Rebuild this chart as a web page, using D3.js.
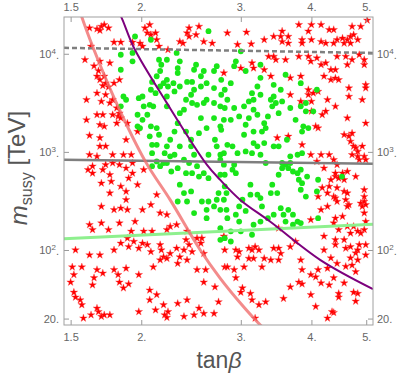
<!DOCTYPE html>
<html>
<head>
<meta charset="utf-8">
<script src="https://cdn.jsdelivr.net/npm/d3@7"></script>
<style>
  body { margin: 0; background: #fff; }
  text { font-family: "Liberation Sans", Arial, sans-serif; }
</style>
</head>
<body>
<div id="chart"></div>
<script>
// tick values / labels
var xTicks = [1.5, 2, 3, 4, 5];
var xTickLabels = ["1.5", "2.", "3.", "4.", "5."];
var yTicks = [20, 100, 1000, 10000];
var yTickBase = ["20.", "10", "10", "10"];
var yTickExp = ["", "2", "3", "4"];

// [tanβ, m_susy (TeV)]
var redStars = [
  [1.62,18300],[1.67,17900],[1.70,19000],[1.72,19800],[1.75,18300],[1.69,17300],
  [1.79,13100],[1.84,13100],[1.63,11900],[1.59,8700],[1.69,8400],[1.65,7500],
  [1.68,6700],[1.76,8050],[1.67,5900],[1.69,5430],[1.72,5900],[1.73,5020],
  [1.71,4730],[1.75,4580],[1.79,5020],[1.83,5430],[1.60,3400],[1.67,3970],
  [1.73,3820],[1.78,3400],[1.76,3150],[1.70,3270],[1.81,2800],[1.83,2480],
  [1.82,2300],[1.78,2390],[1.84,2210],[1.67,2390],[1.71,2390],[1.60,2120],
  [1.69,1890],[1.72,1820],[1.81,1960],[1.89,1960],[1.62,1470],[1.69,1390],
  [1.73,1140],[1.69,1140],[1.88,1330],[1.97,1610],[1.62,935],[1.67,900],
  [1.78,935],[1.86,935],[1.92,935],[1.93,770],[1.78,770],[1.73,740],[1.64,715],
  [1.99,12800],[2.07,19800],[2.05,16300],[2.08,15600],[2.03,18300],[2.12,16300],
  [2.13,13900],[2.15,11900],[2.01,11900],[2.23,11000],[2.37,12800],[2.43,18300],
  [2.43,15000],[2.50,15600],[2.58,13300],[2.67,12800],[2.53,19000],[2.84,16300],
  [2.80,6370],[1.93,13100],[2.34,13300],[2.41,16300],
  [3.07,16600],[2.96,12400],[3.13,12600],[3.30,13900],[3.43,15000],[3.55,17000],
  [3.53,15000],[3.55,13300],[3.64,15000],[3.64,12800],[3.80,19800],[3.85,13900],
  [3.85,12800],[3.95,17000],[4.00,13900],[4.00,19800],[4.16,19800],[4.30,17600],
  [4.38,17600],[4.16,13300],[4.24,12800],[4.38,12800],[4.44,13900],[4.54,14400],
  [4.57,12800],[4.63,13900],[4.69,15000],[4.72,19000],[4.89,19000],[4.75,15600],
  [4.83,13900],[5.02,22000],[4.69,12800],
  [3.00,7140],[3.16,7140],[3.14,8050],[3.30,6870],[3.36,9390],[3.43,9390],
  [3.46,8690],[3.60,8690],[3.80,9390],[3.95,9390],[3.99,8370],[4.09,9040],
  [4.16,7730],[4.24,8050],[4.33,6870],[4.41,6870],[4.44,9390],[4.60,9390],
  [4.63,7730],[4.72,8690],[4.86,9770],[4.96,8690],[4.96,7730],[3.39,5900],
  [3.67,5680],[3.83,5900],[4.21,5900],[4.33,5430],[4.41,5640],[4.47,5430],
  [3.95,4300],[3.95,3820],[4.03,3970],[4.11,4130],[3.67,3820],[3.83,3270],
  [4.00,3270],[4.27,3400],[4.41,2910],[4.66,3670],[4.92,3400],[4.99,4830],
  [4.99,4470],[4.66,4470],[4.00,2590],[4.18,2390],[4.24,2590],[4.11,1750],
  [4.07,1820],[4.63,2210],[4.99,1960],[4.57,1495],[4.66,1440],[4.72,1550],
  [4.69,1280],[4.75,1140],[4.79,1100],[4.83,1010],[4.72,935],[4.83,900],
  [4.96,900],[4.99,832],[3.85,1180],[3.99,935],[4.16,935],[4.30,935],
  [4.38,832],[4.09,800],[3.48,1390],[3.64,1440],[4.92,1140],[4.86,832],
  [4.41,560],[4.54,607],[4.63,631],[4.57,520],[4.79,560],[4.44,430],[4.57,395],
  [4.38,350],[4.63,380],[4.60,325],[4.96,411],[4.96,350],[4.66,289],[4.89,300],
  [4.92,278],[4.96,312],[4.99,289],[4.41,211],[4.54,220],[4.47,161],[4.63,174],
  [4.75,174],[4.69,148],[4.89,148],[4.96,161],[4.57,127],[4.86,113],[4.99,113],
  [4.69,108],[4.79,93],[4.44,73],[4.60,68],[4.72,70],[4.79,60],[4.38,52],
  [4.57,46],[4.47,33],[4.83,36],[4.79,30],[4.38,23],
  [4.21,683],[4.44,740],[4.41,607],[4.33,520],[4.30,445],[4.47,540],[4.18,430],
  [4.27,380],[4.11,350],[4.41,338],[4.44,312],[4.16,257],[4.27,278],[4.63,278],
  [4.96,238],[4.99,195],[3.99,203],[4.38,188],[4.83,155],[4.21,138],[4.41,127],
  [4.41,113],[4.60,104],[4.83,100],[4.99,89],[4.33,83],[4.69,83],[4.83,79],
  [4.21,100],[3.75,122],[3.67,108],[2.81,100],[2.94,100],[2.98,96],[2.96,85],
  [3.10,104],[3.14,100],[3.18,108],[3.23,100],[3.43,104],[3.50,104],[3.53,92],
  [3.50,79],[3.39,79],[3.30,82],[3.16,82],[3.10,82],[3.27,67],[3.04,67],
  [2.81,67],[2.92,63],[3.83,79],[3.85,63],[4.11,63],[4.27,65],[3.99,56],
  [4.07,53],[4.16,46],[4.30,44],[3.67,42],[3.80,47],[3.85,45],[3.99,35],
  [4.47,36],[4.75,37],[2.94,52],[3.02,41],[3.00,37],[3.12,36],[3.14,31],
  [3.23,27.6],[3.32,29.6],[3.57,32],[4.07,26.5],[4.35,23.5],[4.27,20.2],
  [3.18,20.2],[3.50,167],
  [1.61,658],[1.64,607],[1.71,658],[1.76,585],[1.83,740],[1.88,683],[1.93,607],
  [1.90,540],[1.77,500],[1.70,480],[1.84,445],[1.97,463],[2.02,658],[1.76,380],
  [1.88,395],[1.70,278],[1.79,257],[1.84,267],[1.88,325],[1.89,257],[2.01,257],
  [1.62,181],[1.64,161],[1.70,188],[1.75,161],[1.83,188],[1.95,195],[1.92,155],
  [2.02,155],[2.09,155],[2.13,366],[2.08,289],[2.16,238],[2.22,229],[2.25,174],
  [2.22,161],[2.41,155],[2.31,181],[1.53,100],[1.62,89],[1.69,89],[1.79,100],
  [1.84,117],[1.89,132],[1.90,108],[1.94,122],[2.01,117],[1.98,104],[2.05,113],
  [2.08,96],[2.16,113],[2.17,100],[2.19,85],[2.22,82],[2.25,92],[2.16,79],
  [2.31,104],[2.38,100],[2.40,127],[2.43,113],[2.46,96],[2.51,132],[2.56,132],
  [2.55,117],[2.58,92],[2.34,85],[2.32,73],[2.41,79],[1.51,67],[1.52,56],
  [1.50,47],[1.57,67],[1.67,63],[1.71,58],[1.65,52],[1.64,44],[1.79,63],
  [1.88,65],[1.82,56],[1.83,47],[1.86,41],[1.90,45],[1.98,56],[2.10,67],
  [2.07,39],[2.13,35],[2.07,31],[2.19,27.6],[2.23,23.5],[2.20,21.8],[2.32,28.5],
  [2.41,31],[2.38,21],[2.48,21.8],[2.58,22.5],[2.69,22.5],[2.51,63],[2.60,63],
  [2.58,47],[2.70,42],[2.84,67],[2.80,138],[1.52,37],[1.53,33],[1.56,31],
  [1.57,27.6],[1.67,25.5],[1.68,23.5],[1.58,20.2],[1.63,21.8],[1.70,21],
  [1.72,21.8],[1.76,21.8],[1.98,23.5],[2.74,29.6],[2.12,24.5],[2.22,20.5],[2.53,25.5]
];

var greenDots = [
  [2.08,13900],[1.95,15000],[1.93,10200],[1.84,9770],[1.93,8370],[1.84,6870],
  [1.86,3670],[1.88,3400],[1.98,3530],[2.02,2910],[2.07,3020],[1.97,2390],
  [2.01,2120],[2.05,2390],[2.10,2910],[1.97,1820],[1.99,1750],[2.08,1820],
  [2.15,1495],[2.07,1440],[2.09,1180],[2.09,970],[2.13,1180],[2.20,970],
  [2.16,715],[2.19,770],[2.25,900],[2.38,832],[2.43,770],[2.29,1610],
  [2.32,1960],[2.40,1610],[2.45,1330],[2.45,1140],[2.53,1550],[2.61,1750],
  [2.55,2210],[2.69,2210],[2.76,1820],[2.70,1330],[2.72,1140],[2.76,935],
  [2.63,935],[2.48,935],[2.34,1140],[2.25,1330],[2.13,5900],[2.09,5160],
  [2.08,4300],[2.12,3970],[2.16,4640],[2.19,5020],[2.22,5430],[2.23,4640],
  [2.28,5020],[2.29,4130],[2.34,4640],[2.41,5160],[2.46,5160],[2.48,4300],
  [2.45,3820],[2.40,3400],[2.46,3150],[2.51,3020],[2.58,3150],[2.69,3150],
  [2.76,2910],[2.81,2800],[2.38,2690],[2.34,2480],[2.22,3670],[2.22,2910],
  [2.15,8690],[2.22,8690],[2.31,10200],[2.34,8370],[2.32,7140],[2.50,7730],
  [2.58,6670],[2.69,6670],[2.63,17000],[2.77,5430],[2.81,4300],[2.69,4470],
  [2.61,5020],[2.55,5900],[2.16,6670],[2.17,7730],[2.32,6370],[2.55,4640],
  [2.61,3400],[2.84,3400],[2.01,3670],[1.84,2910],[2.13,1750],[2.72,7470],
  [2.48,6870],[2.22,1140],[2.29,935],
  [3.00,10600],[2.94,8370],[2.88,5020],[2.77,3820],[2.92,2800],[2.98,2300],
  [2.80,2120],[2.77,1680],[2.84,1180],[3.06,6670],[3.21,4640],[3.14,3970],
  [3.16,3400],[3.04,2910],[3.16,2690],[3.10,2210],[3.06,1890],[3.04,1495],
  [3.27,1610],[3.30,1960],[3.39,3400],[3.41,2910],[3.53,4300],[3.50,2480],
  [3.43,4830],[3.60,6110],[3.91,3150],[3.83,2910],[3.67,2800],[3.75,2120],
  [3.87,1820],[3.95,1750],[4.09,4300],[4.03,2590],[3.62,1330],[3.50,1140],
  [3.43,1140],[3.30,1230],[3.21,1140],[3.16,1230],[3.25,935],[3.06,1010],
  [2.90,1140],[3.67,900],[3.78,935],[3.60,740],[3.25,7730],
  [2.92,7470],[3.25,5680],[3.25,3820],[3.10,3270],[3.21,2390],[3.16,1610],
  [3.32,1750],[3.46,3150],[3.43,3670],[3.55,3270],[3.35,2300],[3.83,5020],
  [3.91,2590],[3.85,1610],[3.14,970],[2.96,970],[2.80,970],[3.85,970],
  [3.67,770],[3.55,770],[3.32,770],[2.76,832],[2.88,2120],
  [2.76,585],[2.92,740],[2.90,658],[2.81,445],[2.83,380],[2.83,257],[2.88,155],
  [2.81,132],[2.76,127],[2.98,195],[2.98,278],[3.02,325],[3.12,463],[3.21,366],
  [3.25,338],[3.27,278],[3.41,463],[3.50,585],[3.55,683],[3.78,607],[3.85,480],
  [3.83,411],[3.93,560],[4.09,395],[4.11,211],[3.78,195],[3.83,188],[3.71,181],
  [3.60,195],[3.53,267],[3.64,257],[3.71,229],[3.16,181],[3.25,195],[3.00,155],
  [2.88,122],[2.80,740],[2.94,607],[3.12,366],[2.80,325],[2.94,229],[3.06,250],
  [3.39,380],[3.48,380],[3.64,683],[3.71,631],[3.83,658],[3.80,520],[3.91,350],
  [4.11,520],[3.57,229],[3.43,229],[3.35,211],[3.14,143],
  [2.09,715],[2.13,800],[2.22,770],[2.26,631],[2.32,683],[2.46,607],[2.53,560],
  [2.63,540],[2.34,463],[2.38,380],[2.45,395],[2.32,312],[2.41,312],[2.56,312],
  [2.63,312],[2.72,325],[2.69,278],[2.48,238],[2.61,211],[2.76,257],[2.76,167],
  [2.40,607],[2.51,715],[2.58,607],[2.81,585],[2.74,380],[2.61,257],[2.84,211],
  [4.53,560]
];

// straight bounds across the plot
var edgeTan = [1.46, 5.14];
var dashedM = [11500, 10200];
var grayM = [830, 755];
var greenM = [130, 183];

// curved bounds
var purpleTan = [1.80, 1.842, 1.942, 2.219, 2.614, 2.759, 2.994, 3.384, 4.15, 5.14];
var purpleM = [30000, 23900, 11430, 3160, 737, 518, 324, 194, 79, 40];
var pinkTan = [1.55, 1.569, 1.645, 1.797, 2.036, 2.25, 2.543, 2.759, 3.015, 3.248, 3.30];
var pinkM = [30000, 23900, 11430, 3394, 791, 324, 100, 51.4, 27.5, 17.2, 15.8];

var margin = {top: 17, right: 26, bottom: 56, left: 64},
    width = 309,
    height = 308;

var x = d3.scaleLog().domain([1.46, 5.14]).range([0, width]);
var y = d3.scaleLog().domain([17.2, 23700]).range([height, 0]);

var svg = d3.select("#chart").append("svg")
    .attr("width", 399)
    .attr("height", 381)
    .append("g")
    .attr("transform", "translate(" + margin.left + "," + margin.top + ")");

svg.append("clipPath").attr("id", "clip")
  .append("rect").attr("width", width).attr("height", height);

var plot = svg.append("g").attr("clip-path", "url(#clip)");

// red stars
var star = d3.symbol().type(d3.symbolStar).size(18);
plot.selectAll(".star")
    .data(redStars)
  .enter().append("path")
    .attr("class", "star")
    .attr("d", star)
    .attr("transform", function(d) { return "translate(" + x(d[0]) + "," + y(d[1]) + ")"; })
    .attr("fill", "#ff0000")
    .attr("stroke", "rgba(255,60,60,0.45)")
    .attr("stroke-width", 0.8);

// green points
plot.selectAll(".dot")
    .data(greenDots)
  .enter().append("circle")
    .attr("class", "dot")
    .attr("cx", function(d) { return x(d[0]); })
    .attr("cy", function(d) { return y(d[1]); })
    .attr("r", 2.9)
    .attr("fill", "#19e619");

function pairs(xs, ys) {
  return xs.map(function(v, i) { return [v, ys[i]]; });
}

var line = d3.line()
    .x(function(d) { return x(d[0]); })
    .y(function(d) { return y(d[1]); });

var smooth = d3.line()
    .curve(d3.curveCatmullRom)
    .x(function(d) { return x(d[0]); })
    .y(function(d) { return y(d[1]); });

plot.append("path")
    .datum(pairs(edgeTan, greenM))
    .attr("d", line)
    .attr("fill", "none")
    .attr("stroke", "#8ef08e")
    .attr("stroke-width", 3);

plot.append("path")
    .datum(pairs(edgeTan, grayM))
    .attr("d", line)
    .attr("fill", "none")
    .attr("stroke", "#7f7f7f")
    .attr("stroke-width", 2.5);

plot.append("path")
    .datum(pairs(edgeTan, dashedM))
    .attr("d", line)
    .attr("fill", "none")
    .attr("stroke", "#7f7f7f")
    .attr("stroke-width", 2.5)
    .attr("stroke-dasharray", "5,3");

plot.append("path")
    .datum(pairs(pinkTan, pinkM))
    .attr("d", smooth)
    .attr("fill", "none")
    .attr("stroke", "rgba(240,110,110,0.8)")
    .attr("stroke-width", 3);

plot.append("path")
    .datum(pairs(purpleTan, purpleM))
    .attr("d", smooth)
    .attr("fill", "none")
    .attr("stroke", "#7d007d")
    .attr("stroke-width", 2);

// frame axes
function styleAxis(g) {
  g.select(".domain").remove();
  g.selectAll(".tick line").attr("stroke", "#999");
  g.selectAll(".tick text").attr("fill", "#666").style("font-size", "11px");
}

function supLabels(g) {
  g.selectAll(".tick text").each(function(d, i) {
    var t = d3.select(this).text(null);
    t.append("tspan").text(yTickBase[i]);
    if (yTickExp[i]) {
      t.append("tspan").attr("dy", "-0.45em").style("font-size", "8px").text(yTickExp[i]);
      t.append("tspan").attr("dy", "0.45em").text(".");
    }
  });
}

svg.append("g")
    .attr("transform", "translate(0," + height + ")")
    .call(d3.axisBottom(x).tickValues(xTicks)
      .tickFormat(function(d, i) { return xTickLabels[i]; })
      .tickSizeInner(-5).tickSizeOuter(0).tickPadding(8))
    .call(styleAxis);

svg.append("g")
    .call(d3.axisTop(x).tickValues(xTicks)
      .tickFormat(function(d, i) { return xTickLabels[i]; })
      .tickSizeInner(-5).tickSizeOuter(0).tickPadding(6))
    .call(styleAxis);

svg.append("g")
    .call(d3.axisLeft(y).tickValues(yTicks)
      .tickSizeInner(-5).tickSizeOuter(0).tickPadding(5))
    .call(styleAxis)
    .call(supLabels);

svg.append("g")
    .attr("transform", "translate(" + width + ",0)")
    .call(d3.axisRight(y).tickValues(yTicks)
      .tickSizeInner(-5).tickSizeOuter(0).tickPadding(4))
    .call(styleAxis)
    .call(supLabels);

svg.append("rect")
    .attr("width", width)
    .attr("height", height)
    .attr("fill", "none")
    .attr("stroke", "#a0a0a0");

// axis titles
var xt = svg.append("text")
    .attr("x", 219 - margin.left)
    .attr("y", 368 - margin.top)
    .attr("text-anchor", "middle")
    .attr("fill", "#555")
    .style("font-size", "23px");
xt.append("tspan").text("tan");
xt.append("tspan").style("font-style", "italic").text("β");

var yt = svg.append("text")
    .attr("transform", "translate(" + (27 - margin.left) + "," + (168 - margin.top) + ") rotate(-90)")
    .attr("text-anchor", "middle")
    .attr("fill", "#555")
    .style("font-size", "24px")
    .style("white-space", "pre");
yt.append("tspan").style("font-style", "italic").text("m");
yt.append("tspan").attr("dy", "0.3em").style("font-size", "16px").text("susy");
yt.append("tspan").attr("dy", "-0.3em").text(" [TeV]");
</script>
</body>
</html>
